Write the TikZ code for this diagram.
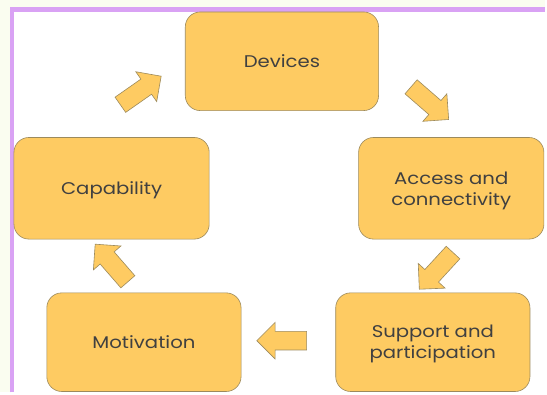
\documentclass[tikz,border=0pt]{standalone}
\usepackage{fontspec}
\setmainfont{Poppins}[FakeStretch=1.16]
\usetikzlibrary{shapes.arrows}
\definecolor{boxfill}{HTML}{FECB62}
\definecolor{boxline}{HTML}{9C8A5C}
\definecolor{frameline}{HTML}{D9A2F4}
\definecolor{outside}{HTML}{FAFDF0}
\definecolor{textgray}{HTML}{404040}
\begin{document}
\begin{tikzpicture}[x=1pt,y=1pt,
	box/.style={draw=boxline, fill=boxfill, rounded corners=15pt, minimum width=195pt, minimum height=100pt,
		align=center, text=textgray, font=\fontsize{17}{21}\selectfont, inner sep=0pt, text depth=0pt, line width=0.6pt},
	blockarrow/.style={single arrow, draw=boxline, fill=boxfill, inner xsep=0pt, inner ysep=9pt,
		single arrow head extend=9pt, minimum height=50pt, line width=0.6pt}]
				% page and frame
				\fill[outside] (0,0) rectangle (547,-394);
				\fill[white] (12,-9.6) rectangle (547,-394);
				\draw[frameline, line width=4.2pt] (12,-394) -- (12,-9.6) -- (547,-9.6);
				% boxes
				\draw (283,-61.5) node[box, minimum width=194pt, minimum height=99pt] (dev) {Devices};
				\draw (453,-189) node[box, minimum width=186pt, minimum height=102pt] (acc) {Access and\\connectivity};
				\draw (434.5,-343.5) node[box, minimum height=99pt] (sup) {Support and\\participation};
				\draw (144.5,-343.5) node[box, minimum height=99pt] (mot) {Motivation};
				\draw (112,-189) node[box, minimum width=196pt, minimum height=102pt] (cap) {Capability};
				% arrows
				\draw (137.5,-93.5) node[blockarrow, rotate=35] (capdev) {};
				\draw (428,-100.5) node[blockarrow, rotate=-41] (devacc) {};
				\draw (441,-268.5) node[blockarrow, rotate=-132.6] (accsup) {};
				\draw (287.5,-342) node[blockarrow, rotate=180] (supmot) {};
				\draw (115,-267.5) node[blockarrow, rotate=131] (motcap) {};
\end{tikzpicture}
\end{document}
